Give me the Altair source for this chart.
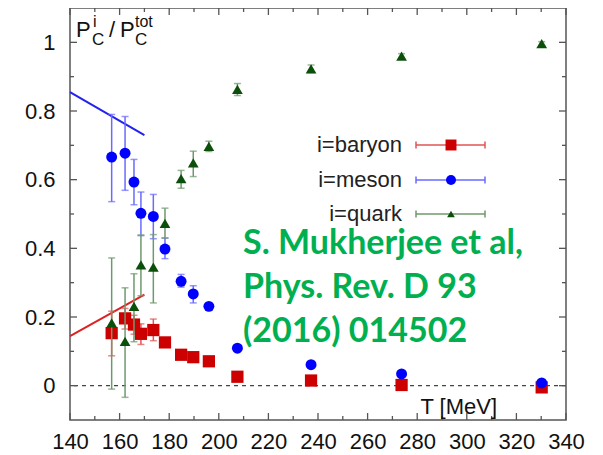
import altair as alt
import pandas as pd

# ---- data ----
T = [156.8, 162.2, 165.8, 168.6, 173.6, 178.3, 184.8, 189.7, 196.0, 207.5, 237.2, 273.7, 330.2]

baryon = [0.153, 0.196, 0.178, 0.151, 0.162, 0.126, 0.090, 0.083, 0.071, 0.026, 0.015, 0.002, -0.005]
baryon_lo = [0.087, 0.165, 0.150, 0.120, 0.131, 0.115, 0.083, 0.077, 0.066, 0.022, 0.012, 0.000, -0.008]
baryon_hi = [0.217, 0.225, 0.205, 0.180, 0.194, 0.137, 0.097, 0.089, 0.076, 0.030, 0.018, 0.004, -0.002]

meson = [0.666, 0.677, 0.593, 0.502, 0.493, 0.398, 0.304, 0.267, 0.231, 0.109, 0.061, 0.034, 0.008]
meson_lo = [0.536, 0.569, 0.527, 0.437, 0.428, 0.370, 0.287, 0.241, 0.225, 0.103, 0.056, 0.030, 0.005]
meson_hi = [0.790, 0.784, 0.659, 0.564, 0.557, 0.430, 0.324, 0.291, 0.238, 0.115, 0.066, 0.038, 0.011]

quark = [0.183, 0.129, 0.231, 0.352, 0.345, 0.473, 0.603, 0.649, 0.697, 0.863, 0.923, 0.960, 0.996]
quark_lo = [-0.010, -0.034, 0.128, 0.262, 0.241, 0.430, 0.575, 0.609, 0.682, 0.845, 0.912, 0.953, 0.990]
quark_hi = [0.372, 0.285, 0.326, 0.439, 0.440, 0.517, 0.627, 0.683, 0.712, 0.880, 0.934, 0.967, 1.002]

fit_T = [140, 170]
fit_meson = [0.855, 0.730]
fit_baryon = [0.144, 0.265]

x_major = [140, 160, 180, 200, 220, 240, 260, 280, 300, 320, 340]
x_minor = [150, 170, 190, 210, 230, 250, 270, 290, 310, 330]
y_major = [0, 0.2, 0.4, 0.6, 0.8, 1.0]
y_minor = [0.1, 0.3, 0.5, 0.7, 0.9]
zero = [0]

legend_labels = ["i=baryon", "i=meson", "i=quark"]
note_lines = ["S. Mukherjee et al,", "Phys. Rev. D 93", "(2016) 014502"]

# ---- layout / style ----
W, H = 496, 412
FONT = "Liberation Sans"
FRAME = "#555555"
xs = alt.Scale(domain=[140, 340], nice=False, zero=False)
ys = alt.Scale(domain=[-0.1, 1.1], nice=False, zero=False)
xaxis = alt.Axis(values=x_major, ticks=False, domain=False, grid=False, title=None,
                 labelFontSize=22, labelFont=FONT, labelColor="#111", labelPadding=11,
                 labelFlush=False)
yaxis = alt.Axis(values=y_major, ticks=False, domain=False, grid=False, title=None,
                 labelFontSize=22, labelFont=FONT, labelColor="#111", labelPadding=15,
                 format="~g")


def X(f):
    return alt.X(f, type="quantitative", scale=xs, axis=xaxis)


def Y(f):
    return alt.Y(f, type="quantitative", scale=ys, axis=yaxis)


one = pd.DataFrame({"a": [0]})
layers = []

# zero dashed line
layers.append(alt.Chart(pd.DataFrame({"z": zero})).mark_rule(
    color="#444", strokeDash=[4, 4], strokeWidth=1.2).encode(y=Y("z")))

# inward ticks
for vals, size in [(x_major, 7), (x_minor, 4)]:
    d = pd.DataFrame({"t": vals})
    layers.append(alt.Chart(d).mark_rule(color=FRAME, strokeWidth=1.3).encode(
        x=X("t"), y=alt.value(H), y2=alt.value(H - size)))
    layers.append(alt.Chart(d).mark_rule(color=FRAME, strokeWidth=1.3).encode(
        x=X("t"), y=alt.value(0), y2=alt.value(size)))
for vals, size in [(y_major, 7), (y_minor, 4)]:
    d = pd.DataFrame({"t": vals})
    layers.append(alt.Chart(d).mark_rule(color=FRAME, strokeWidth=1.3).encode(
        y=Y("t"), x=alt.value(0), x2=alt.value(size)))
    layers.append(alt.Chart(d).mark_rule(color=FRAME, strokeWidth=1.3).encode(
        y=Y("t"), x=alt.value(W), x2=alt.value(W - size)))

# fit lines
for vals, col in [(fit_meson, "#2222EE"), (fit_baryon, "#DD2222")]:
    d = pd.DataFrame({"T": fit_T, "v": vals})
    layers.append(alt.Chart(d).mark_line(color=col, strokeWidth=2).encode(x=X("T"), y=Y("v")))

series = [
    (baryon, baryon_lo, baryon_hi, "square", 150, "#CC0000", "#E05555"),
    (meson, meson_lo, meson_hi, "circle", 120, "#0000FF", "#6A6AFF"),
    (quark, quark_lo, quark_hi, "triangle-up", 115, "#0B4F0B", "#6E996E"),
]
for v, lo, hi, shape, size, col, ecol in series:
    d = pd.DataFrame({"T": T, "v": v, "lo": lo, "hi": hi})
    base = alt.Chart(d)
    layers.append(base.mark_rule(color=ecol, strokeWidth=1.5).encode(
        x=X("T"), y=Y("lo"), y2="hi"))
    layers.append(base.mark_tick(orient="horizontal", size=7, thickness=1.5, color=ecol).encode(
        x=X("T"), y=Y("lo")))
    layers.append(base.mark_tick(orient="horizontal", size=7, thickness=1.5, color=ecol).encode(
        x=X("T"), y=Y("hi")))
    layers.append(base.mark_point(shape=shape, size=size, filled=True, opacity=1, color=col).encode(
        x=X("T"), y=Y("v")))

# legend
leg_y = [137, 172, 206]
leg_sizes = [120, 100, 60]
for (v, lo, hi, shape, size, col, ecol), lab, ly, ls in zip(series, legend_labels, leg_y, leg_sizes):
    layers.append(alt.Chart(one).mark_text(text=lab, font=FONT, fontSize=22, align="right",
                                           baseline="middle", color="#222").encode(
        x=alt.value(332), y=alt.value(ly)))
    layers.append(alt.Chart(one).mark_rule(color=ecol, strokeWidth=1.5).encode(
        x=alt.value(346), x2=alt.value(415), y=alt.value(ly)))
    for cx in (346, 415):
        layers.append(alt.Chart(one).mark_rule(color=ecol, strokeWidth=1.5).encode(
            x=alt.value(cx), y=alt.value(ly - 3.5), y2=alt.value(ly + 3.5)))
    layers.append(alt.Chart(one).mark_point(shape=shape, size=ls, filled=True, opacity=1, color=col).encode(
        x=alt.value(381), y=alt.value(ly)))

# axis titles inside the frame
title_parts = [
    ("P", 6, 29, 22, "left"),
    ("i", 23, 19, 16, "left"),
    ("C", 22, 37, 17, "left"),
    ("/", 39, 29, 22, "left"),
    ("P", 50, 29, 22, "left"),
    ("tot", 65, 19, 16, "left"),
    ("C", 65, 37, 17, "left"),
    ("T [MeV]", 427, 406, 22, "right"),
]
for txt, tx, ty, fs, al in title_parts:
    layers.append(alt.Chart(one).mark_text(text=txt, font=FONT, fontSize=fs, align=al,
                                           baseline="alphabetic", color="#111").encode(
        x=alt.value(tx), y=alt.value(ty)))

# green annotation
for i, line in enumerate(note_lines):
    layers.append(alt.Chart(one).mark_text(text=line, font="Lato", fontWeight="bold", fontSize=34,
                                           align="left", baseline="alphabetic", color="#00B050").encode(
        x=alt.value(173), y=alt.value(246 + 44 * i)))

chart = alt.layer(*layers).properties(
    width=W, height=H,
    autosize=alt.AutoSizeParams(type="none"),
    padding={"left": 62, "top": 0, "right": 29, "bottom": 35},
).configure_view(stroke=FRAME, strokeWidth=1.5)

chart.save("out.html", embed_options={"renderer": "svg", "actions": False})
